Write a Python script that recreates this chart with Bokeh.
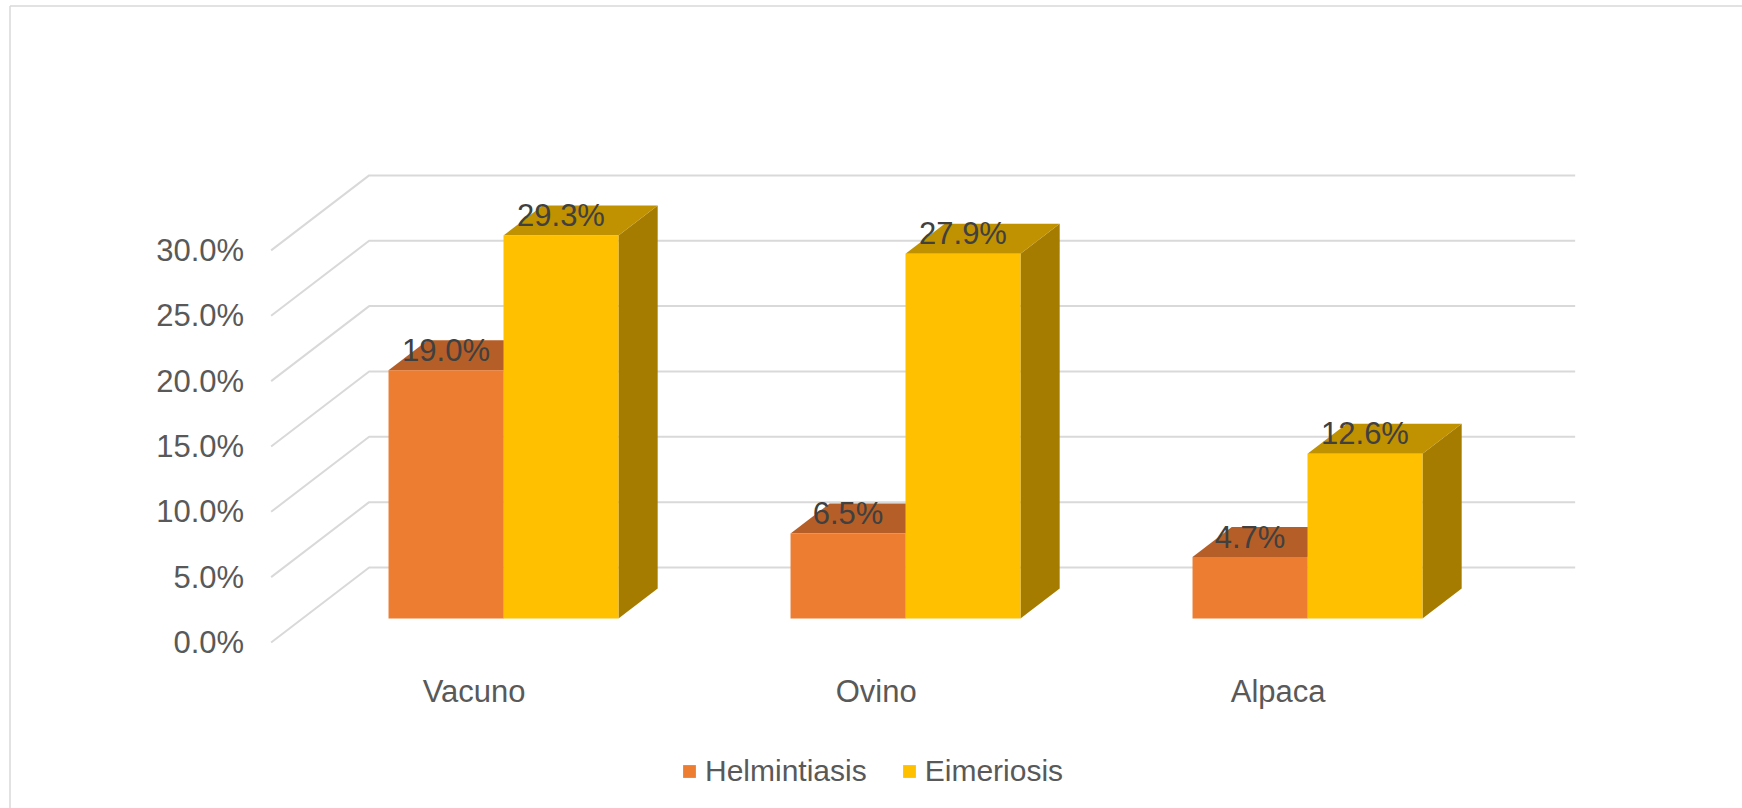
from bokeh.plotting import figure
from bokeh.models import Range1d, Legend, LegendItem, ColumnDataSource
from bokeh.core.properties import value
from bokeh.embed import file_html
from bokeh.resources import INLINE

# ---------------- data ----------------
categories = ["Vacuno", "Ovino", "Alpaca"]
series_names = ["Helmintiasis", "Eimeriosis"]
helmintiasis = [19.0, 6.5, 4.7]
eimeriosis = [29.3, 27.9, 12.6]
y_ticks = [0, 5, 10, 15, 20, 25, 30]
y_tick_labels = ["0.0%", "5.0%", "10.0%", "15.0%", "20.0%", "25.0%", "30.0%"]

# ---------------- geometry / style ----------------
W, H = 1742, 808
PX_X = 402.0      # pixels per category
PX_Y = 13.07      # pixels per percentage point
X0_PX = 503.0     # pixel x of category 0 centre (bar front plane)
Y0_PX = 618.0     # pixel y of 0 % (bar front plane)
SLOPE = 1.307     # horizontal px per vertical px of depth
BAR_W = 0.286     # bar width, category units
BAR_DEPTH = 30    # depth of bars (px of vertical shift)
FLOOR_FRONT = -24
WALL = 51
PLOT_L, PLOT_R = -0.5, 2.5

FONT_NAME = "Liberation Sans"
FONT = value(FONT_NAME)
colors_front = ["#ED7D31", "#FFC000"]
colors_top = ["#B65E27", "#C09100"]
colors_side = ["#A9551F", "#A67C00"]
GRID = "#D9D9D9"


def dep(t):
    return (t * SLOPE / PX_X, t / PX_Y)


def px_x(px):
    return (px - X0_PX) / PX_X


def px_y(py):
    return (Y0_PX - py) / PX_Y


p = figure(width=W, height=H, output_backend="svg", toolbar_location=None,
           x_range=Range1d(px_x(0), px_x(W)), y_range=Range1d(px_y(H), px_y(0)),
           x_axis_location=None, y_axis_location=None, min_border=0,
           background_fill_color="white", border_fill_color="white")
p.outline_line_color = None
p.xgrid.visible = False
p.ygrid.visible = False

# chart border (left and top visible)
p.multi_line(xs=[[px_x(9.5), px_x(9.5)], [px_x(9.5), px_x(W + 5)]],
             ys=[[px_y(5.5), px_y(H + 5)], [px_y(5.5), px_y(5.5)]],
             line_color=GRID, line_width=1.5)

# back wall gridlines + left wall diagonals
bx, by = dep(WALL)
fx, fy = dep(FLOOR_FRONT)
gxs, gys = [], []
for v in y_ticks:
    gxs.append([PLOT_L + fx, PLOT_L + bx, PLOT_R + bx])
    gys.append([v + fy, v + by, v + by])
p.multi_line(xs=gxs, ys=gys, line_color=GRID, line_width=2)

# y tick labels
p.text(x=[PLOT_L + fx] * len(y_ticks), y=[v + fy for v in y_ticks], text=y_tick_labels,
       x_offset=-27, text_align="right", text_baseline="middle",
       text_font=FONT, text_font_size="31px", text_color="#595959")

# category labels
p.text(x=[i + fx for i in range(len(categories))], y=[fy] * len(categories), text=categories,
       x_offset=2, y_offset=49, text_align="center", text_baseline="alphabetic",
       text_font=FONT, text_font_size="31px", text_color="#595959")

# bars
dx, dy = dep(BAR_DEPTH)
front_renderers = []
for s, vals in enumerate([helmintiasis, eimeriosis]):
    lefts = [i - BAR_W + s * BAR_W for i in range(len(categories))]
    rights = [l + BAR_W for l in lefts]
    side_xs = [[r, r + dx, r + dx, r] for r in rights]
    side_ys = [[0, dy, v + dy, v] for v in vals]
    top_xs = [[l, r, r + dx, l + dx] for l, r in zip(lefts, rights)]
    top_ys = [[v, v, v + dy, v + dy] for v in vals]
    p.patches(xs=side_xs, ys=side_ys, fill_color=colors_side[s], line_color=None)
    p.patches(xs=top_xs, ys=top_ys, fill_color=colors_top[s], line_color=None)
    src = ColumnDataSource(dict(left=lefts, right=rights, top=vals, bottom=[0] * len(vals)))
    r = p.quad(left="left", right="right", top="top", bottom="bottom", source=src,
               fill_color=colors_front[s], line_color=None)
    front_renderers.append(r)

# data labels
for s, vals in enumerate([helmintiasis, eimeriosis]):
    centers = [i - BAR_W / 2 + s * BAR_W for i in range(len(categories))]
    p.text(x=centers, y=vals, text=[f"{v:.1f}%" for v in vals],
           y_offset=-20, text_align="center", text_baseline="alphabetic",
           text_font=FONT, text_font_size="31px", text_color="#404040")

legend = Legend(items=[LegendItem(label=n, renderers=[r]) for n, r in zip(series_names, front_renderers)],
                location=(681, 17), orientation="horizontal",
                glyph_width=16, glyph_height=16, label_standoff=8, spacing=34,
                padding=0, margin=0, label_height=40,
                border_line_color=None, background_fill_alpha=0,
                label_text_font=FONT_NAME, label_text_font_size="30px", label_text_color="#595959")
p.add_layout(legend)

open("out.html", "w").write(file_html(p, INLINE))
